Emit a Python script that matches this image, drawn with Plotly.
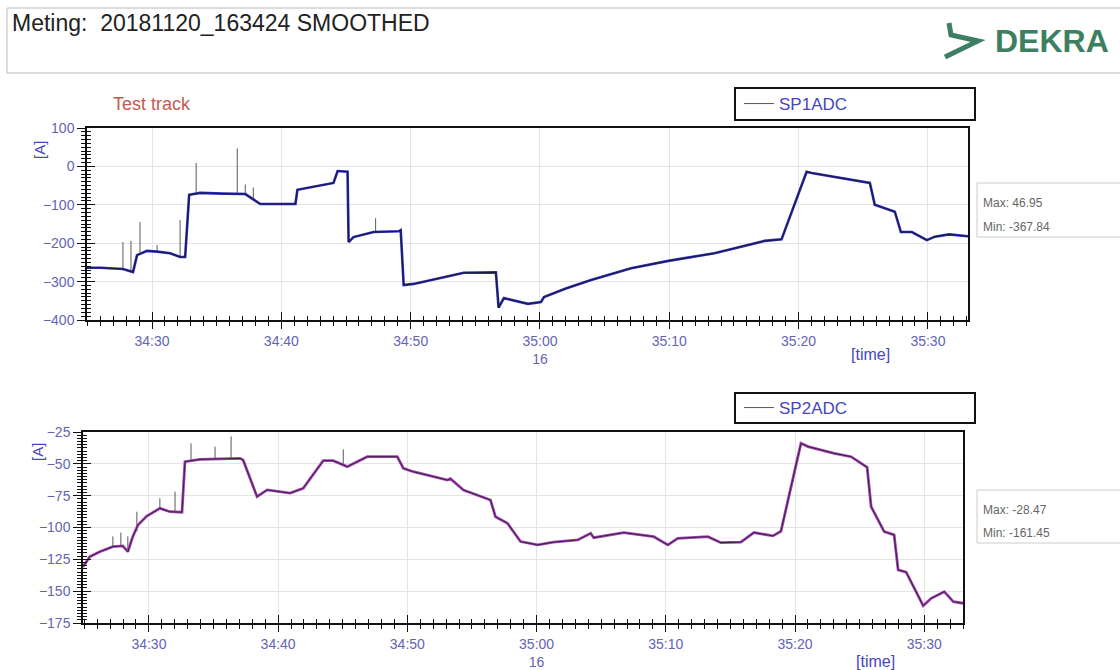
import plotly.graph_objects as go

W, H = 1120, 670

# ---------------- data ----------------
# time axis: seconds after 16:34:00
tick_vals = [30, 40, 50, 60, 70, 80, 90]
tick_text = ["34:30", "34:40", "34:50", "35:00<br>16", "35:10", "35:20", "35:30"]

# SP1ADC [A] (smoothed)
sp1_t = [24.97, 26.0, 27.75, 28.53, 28.84, 29.61, 30.39, 31.40, 32.17, 32.56,
         32.87, 33.72, 35.5, 37.21, 38.37, 40.0, 41.09, 41.24, 42.6, 44.03,
         44.35, 45.12, 45.20, 45.58, 47.13, 49.07, 49.23, 49.46, 50.23, 52.2,
         54.11, 56.59, 56.75, 56.80, 57.21, 59.07, 60.08, 60.31, 62.0, 63.95,
         67.05, 69.93, 73.49, 77.37, 78.68, 80.62, 81.01, 83.34, 85.51, 85.89,
         87.44, 87.91, 88.76, 89.92, 90.54, 91.63, 93.1]
sp1_v = [-264, -264, -267, -275, -231, -220, -222, -226, -236, -236,
         -74, -69, -71, -72, -98, -97, -98, -61, -52, -43,
         -12, -14, -197, -184, -171, -169, -166, -309, -306, -292,
         -277, -276, -353, -367.8, -343, -358, -353, -340, -318, -296,
         -265, -246, -226, -194, -190, -14, -17, -30, -43, -100,
         -118, -171, -171, -192, -183, -177, -182]
# raw spikes of SP1ADC
sp1_spike_t = [27.75, 28.37, 29.07, 30.39, 32.17, 33.41, 36.59, 37.21, 37.83, 47.29]
sp1_spike_base = [-267, -270, -225, -222, -236, -70, -70, -72, -85, -170]
sp1_spike_peak = [-197, -194, -145, -205, -140, 9, 46.95, -47, -55, -135]

# SP2ADC [A] (smoothed)
sp2_t = [24.9, 25.43, 26.20, 27.21, 27.98, 28.37, 28.76, 29.15, 29.84, 30.85,
         31.63, 32.56, 32.79, 33.95, 37.05, 37.29, 38.37, 39.15, 40.93, 41.94,
         43.49, 44.26, 45.35, 46.90, 49.22, 49.69, 50.47, 53.10, 53.33, 54.34,
         56.43, 56.82, 57.75, 58.76, 60.08, 61.32, 63.18, 64.19, 64.42, 66.74,
         69.07, 70.16, 70.93, 73.26, 74.26, 75.81, 76.82, 78.29, 78.91, 80.46,
         81.01, 83.02, 84.34, 85.58, 85.89, 86.90, 87.67, 87.98, 88.60, 89.92,
         90.54, 91.55, 92.25, 93.0]
sp2_v = [-130.8, -122.9, -119, -115, -114.5, -119, -107, -98, -91, -85,
         -87.6, -88, -48.3, -46.5, -45.7, -47, -75.8, -70.5, -73, -69.2,
         -47.5, -47.5, -52.2, -44.4, -44.4, -53.5, -56.2, -62.7, -61.6, -70.5,
         -78.4, -91.5, -96.7, -111, -113.7, -111.5, -109.8, -104.5, -108, -104,
         -107.2, -113.7, -108.5, -107.2, -111.9, -111.5, -104, -106.6, -103, -33.9,
         -36.5, -41.7, -44.4, -52.7, -83.6, -103.2, -105.8, -133.3, -135, -161.45,
         -155.6, -150.4, -158.2, -159.5]
# raw spikes of SP2ADC
sp2_spike_t = [27.21, 27.83, 28.37, 29.07, 30.85, 32.02, 33.26, 35.12, 36.36, 45.04]
sp2_spike_base = [-115, -114.5, -119, -103, -85, -88, -47, -46, -46, -51]
sp2_spike_peak = [-107, -104, -107, -87.6, -77, -71.8, -33.9, -36.5, -28.47, -38.6]

sp1_stats = ["Max: 46.95", "Min: -367.84"]
sp2_stats = ["Max: -28.47", "Min: -161.45"]

# ---------------- helpers ----------------
def px(x):
    return x / W

def py(y):
    return 1 - y / H

def spikes(ts, base, peak):
    xs, ys = [], []
    for t, b, p in zip(ts, base, peak):
        xs += [t, t, None]
        ys += [b, p, None]
    return xs, ys

FONT = "Liberation Sans, Arial, sans-serif"
TICKCOL = "#6464b4"
BLUE = "#4646c0"

fig = go.Figure()

# top panel
sx, sy = spikes(sp1_spike_t, sp1_spike_base, sp1_spike_peak)
fig.add_trace(go.Scatter(x=sx, y=sy, mode="lines", line=dict(color="#5a5a5a", width=1),
                         xaxis="x", yaxis="y", showlegend=False, hoverinfo="skip"))
fig.add_trace(go.Scatter(x=sp1_t, y=sp1_v, mode="lines", line=dict(color="#2a2ab2", width=2.6),
                         xaxis="x", yaxis="y", showlegend=False))
fig.add_trace(go.Scatter(x=sp1_t, y=sp1_v, mode="lines", line=dict(color="#111111", width=0.7),
                         xaxis="x3", yaxis="y3", name="SP1ADC", legend="legend"))

# bottom panel
sx, sy = spikes(sp2_spike_t, sp2_spike_base, sp2_spike_peak)
fig.add_trace(go.Scatter(x=sx, y=sy, mode="lines", line=dict(color="#5a5a5a", width=1),
                         xaxis="x2", yaxis="y2", showlegend=False, hoverinfo="skip"))
fig.add_trace(go.Scatter(x=sp2_t, y=sp2_v, mode="lines", line=dict(color="#a044b4", width=2.8),
                         xaxis="x2", yaxis="y2", showlegend=False))
fig.add_trace(go.Scatter(x=sp2_t, y=sp2_v, mode="lines", line=dict(color="#111111", width=0.7),
                         xaxis="x4", yaxis="y4", name="SP2ADC", legend="legend2"))

top_xr = [24.97, 93.1]
bot_xr = [24.9, 93.0]
top_yr = [-400, 100]
bot_yr = [-175, -25]

def base_x(domain, rng, anchor):
    return dict(domain=domain, range=rng, anchor=anchor, tickmode="array",
                tickvals=tick_vals, ticktext=tick_text, ticks="outside", ticklen=7,
                tickcolor="#111", tickwidth=1.2, showline=True, linecolor="#111",
                linewidth=1.5, mirror=True, showgrid=True, gridcolor="#e4e4e4",
                zeroline=False, tickfont=dict(family=FONT, size=14, color=TICKCOL),
                minor=dict(dtick=1, tick0=0, ticks="outside", ticklen=4,
                           tickcolor="#111", tickwidth=1.2, showgrid=False),
                automargin=False, fixedrange=True)

def over_x(base, rng, anchor):
    return dict(overlaying=base, range=rng, anchor=anchor, tickmode="array",
                tickvals=tick_vals, ticks="inside", ticklen=8, tickcolor="#111",
                tickwidth=1.2, showticklabels=False, showline=False, showgrid=False,
                zeroline=False,
                minor=dict(dtick=1, tick0=0, ticks="inside", ticklen=4,
                           tickcolor="#111", tickwidth=1.2, showgrid=False),
                automargin=False, fixedrange=True)

def base_y(domain, rng, anchor, dt, mdt):
    return dict(domain=domain, range=rng, anchor=anchor, tickmode="linear",
                tick0=0, dtick=dt, ticks="outside", ticklen=8, tickcolor="#111",
                tickwidth=1.2, showline=True, linecolor="#111", linewidth=1.5,
                mirror=True, showgrid=True, gridcolor="#e4e4e4", zeroline=False,
                tickfont=dict(family=FONT, size=14, color=TICKCOL),
                minor=dict(dtick=mdt, tick0=0, ticks="outside", ticklen=4,
                           tickcolor="#111", tickwidth=1.2, showgrid=False),
                automargin=False, fixedrange=True)

def over_y(base, rng, anchor, dt, mdt):
    return dict(overlaying=base, range=rng, anchor=anchor, side="left",
                tickmode="linear", tick0=0, dtick=dt, ticks="inside", ticklen=8,
                tickcolor="#111", tickwidth=1.2, showticklabels=False,
                showline=False, showgrid=False, zeroline=False,
                minor=dict(dtick=mdt, tick0=0, ticks="inside", ticklen=4,
                           tickcolor="#111", tickwidth=1.2, showgrid=False),
                automargin=False, fixedrange=True)

top_xd = [px(87), px(968)]
top_yd = [py(320), py(128)]
bot_xd = [px(83), px(963)]
bot_yd = [py(623), py(432)]

shapes = [
    # header box
    dict(type="rect", xref="paper", yref="paper", x0=px(7), x1=px(1135), y0=py(73), y1=py(8),
         line=dict(color="#bcbcbc", width=1)),
    # legend boxes
    dict(type="rect", xref="paper", yref="paper", x0=px(735), x1=px(975), y0=py(120), y1=py(88),
         line=dict(color="#111", width=2)),
    dict(type="rect", xref="paper", yref="paper", x0=px(735), x1=px(975), y0=py(423), y1=py(393),
         line=dict(color="#111", width=2)),
    # stats boxes
    dict(type="rect", xref="paper", yref="paper", x0=px(977), x1=px(1135), y0=py(237), y1=py(183),
         line=dict(color="#cccccc", width=1)),
    dict(type="rect", xref="paper", yref="paper", x0=px(977), x1=px(1135), y0=py(543), y1=py(490),
         line=dict(color="#cccccc", width=1)),
    # DEKRA arrow mark
    dict(type="path", xref="paper", yref="paper",
         path=f"M {px(949)} {py(23)} L {px(951)} {py(35)} L {px(978)} {py(41)} L {px(945)} {py(57)}",
         line=dict(color="#3d7f60", width=5)),
]

def note(x, y, text, size, color, xanchor="left", angle=0):
    return dict(xref="paper", yref="paper", x=px(x), y=py(y), text=text, showarrow=False,
                xanchor=xanchor, yanchor="middle", textangle=angle,
                font=dict(family=FONT, size=size, color=color))

ann = [
    note(10, 23, "Meting:\u00a0 20181120_163424 SMOOTHED", 23, "#222"),
    note(993, 41, "<b>DEKRA</b>", 32, "#3d7f60"),
    note(111, 104, "Test track", 18, "#c45a50"),
    note(39, 150, "[A]", 15, BLUE, "center", -90),
    note(37, 452, "[A]", 15, BLUE, "center", -90),
    note(870, 354, "[time]", 16, BLUE, "center"),
    note(875, 661, "[time]", 16, BLUE, "center"),
    note(981, 203, sp1_stats[0], 12, "#666"),
    note(981, 227, sp1_stats[1], 12, "#666"),
    note(981, 510, sp2_stats[0], 12, "#666"),
    note(981, 533, sp2_stats[1], 12, "#666"),
]

legend_common = dict(bgcolor="rgba(0,0,0,0)", borderwidth=0, xanchor="left", yanchor="middle",
                     font=dict(family=FONT, size=17, color=BLUE), itemwidth=30)

fig.update_layout(
    width=W, height=H, margin=dict(l=0, r=0, t=0, b=0),
    paper_bgcolor="white", plot_bgcolor="white",
    xaxis=base_x(top_xd, top_xr, "y"),
    yaxis=base_y(top_yd, top_yr, "x", 100, 10),
    xaxis3=over_x("x", top_xr, "y3"),
    yaxis3=over_y("y", top_yr, "x3", 100, 10),
    xaxis2=base_x(bot_xd, bot_xr, "y2"),
    yaxis2=base_y(bot_yd, bot_yr, "x2", 25, 2.5),
    xaxis4=over_x("x2", bot_xr, "y4"),
    yaxis4=over_y("y2", bot_yr, "x4", 25, 2.5),
    legend=dict(x=px(739), y=py(104), **legend_common),
    legend2=dict(x=px(739), y=py(408), **legend_common),
    shapes=shapes, annotations=ann, showlegend=True,
    font=dict(family=FONT),
)

fig.write_html("out.html", config={"displayModeBar": False},
               post_script="document.body.style.margin='0px';")
